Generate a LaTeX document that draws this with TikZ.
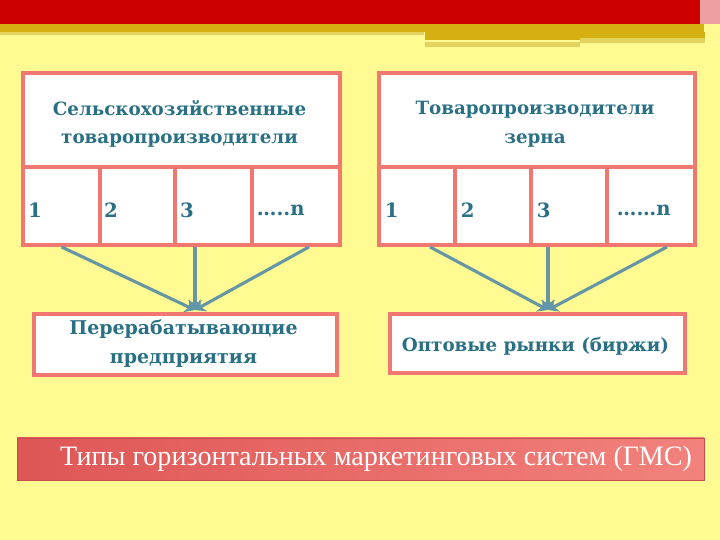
\documentclass[tikz,border=0pt]{standalone}
\usepackage{fontspec}
\setmainfont{Liberation Serif}
\newfontfamily\boxfont{DejaVu Serif}
\usepackage{tikz}
\usetikzlibrary{arrows.meta, calc}

\definecolor{slidebg}{RGB}{255,250,145}
\definecolor{slidered}{RGB}{204,0,0}
\definecolor{slidegold}{RGB}{212,176,16}
\definecolor{lightgold}{RGB}{228,210,95}
\definecolor{paleband}{RGB}{238,160,160}
\definecolor{framered}{RGB}{240,120,112}
\definecolor{tealtext}{RGB}{42,112,132}
\definecolor{linkgray}{RGB}{100,150,165}
\definecolor{tipblue}{RGB}{80,150,200}
\definecolor{bannerdark}{RGB}{222,86,86}
\definecolor{bannerlight}{RGB}{242,130,124}

\begin{document}
\begin{tikzpicture}[
    box/.style={rectangle, draw=framered, line width=2.8pt, fill=white, inner sep=0pt, anchor=north west},
    title/.style={font=\boxfont\bfseries\fontsize{13}{20.5}\selectfont, text=tealtext, align=center},
    num/.style={font=\boxfont\bfseries\fontsize{14}{16}\selectfont, text=tealtext, anchor=west},
    link/.style={draw=linkgray, line width=2.2pt, -{Stealth[length=7pt, width=10pt, fill=tipblue]}}
]
    % slide background
    \fill[slidebg] (0,0) rectangle (18,13.5);
    \useasboundingbox (0,0) rectangle (18,13.5);
    \fill[slidered] (0,12.9) rectangle (17.5,13.5);
    \fill[paleband] (17.5,12.9) rectangle (18,13.5);
    \fill[slidegold] (0,12.7) rectangle (17.6,12.9);
    \fill[lightgold] (0,12.625) rectangle (10.6,12.7);
    \fill[slidegold] (10.625,12.5) rectangle (17.625,12.7);
    \fill[lightgold] (10.625,12.325) rectangle (14.5,12.45);
    \fill[lightgold] (14.5,12.425) rectangle (17.625,12.55);

    % Left group
    \node[box, minimum width=7.925cm, minimum height=2.35cm] (lhead) at (0.525,11.725) {};
    \node[title] (ltext) at (4.4875,10.4) {Сельскохозяйственные\\товаропроизводители};
    \node[box, minimum width=1.925cm, minimum height=1.95cm] (lc1) at (0.525,9.375) {};
    \node[box, minimum width=1.875cm, minimum height=1.95cm] (lc2) at (2.45,9.375) {};
    \node[box, minimum width=1.925cm, minimum height=1.95cm] (lc3) at (4.325,9.375) {};
    \node[box, minimum width=2.2cm, minimum height=1.95cm] (lc4) at (6.25,9.375) {};
    \node[num] (ln1) at (0.58,8.25) {1};
    \node[num] (ln2) at (2.48,8.25) {2};
    \node[num] (ln3) at (4.38,8.25) {3};
    \node[num] (ln4) at (6.3,8.25) {…..n};
    \node[box, minimum width=7.575cm, minimum height=1.525cm] (lbottom) at (0.8,5.7) {};
    \node[title, font=\boxfont\bfseries\fontsize{13.5}{20.5}\selectfont] (lbtext) at (4.5875,4.9) {Перерабатывающие\\предприятия};
    \coordinate (ltip) at (4.875,5.75);
    \draw[link] (lc1.south) -- (ltip);
    \draw[link] (ltip |- lc3.south) -- (ltip);
    \draw[link] ([xshift=0.325cm]lc4.south) -- (ltip);

    % Right group
    \node[box, minimum width=7.9cm, minimum height=2.35cm] (rhead) at (9.425,11.725) {};
    \node[title] (rtext) at (13.375,10.4) {Товаропроизводители\\зерна};
    \node[box, minimum width=1.9cm, minimum height=1.95cm] (rc1) at (9.425,9.375) {};
    \node[box, minimum width=1.9cm, minimum height=1.95cm] (rc2) at (11.325,9.375) {};
    \node[box, minimum width=1.9cm, minimum height=1.95cm] (rc3) at (13.225,9.375) {};
    \node[box, minimum width=2.2cm, minimum height=1.95cm] (rc4) at (15.125,9.375) {};
    \node[num] (rn1) at (9.5,8.25) {1};
    \node[num] (rn2) at (11.4,8.25) {2};
    \node[num] (rn3) at (13.3,8.25) {3};
    \node[num] (rn4) at (15.3,8.25) {……n};
    \node[box, minimum width=7.375cm, minimum height=1.475cm] (rbottom) at (9.7,5.7) {};
    \node[title] (rbtext) at (13.3875,4.85) {Оптовые рынки (биржи)};
    \coordinate (rtip) at (13.7,5.75);
    \draw[link] ([xshift=0.325cm]rc1.south) -- (rtip);
    \draw[link] (rtip |- rc3.south) -- (rtip);
    \draw[link] ([xshift=0.4cm]rc4.south) -- (rtip);

    % Caption bar
    \node[rectangle, draw=bannerdark!90!black, line width=0.6pt, left color=bannerdark, right color=bannerlight, minimum width=17.175cm, minimum height=1.05cm, anchor=west] (banner) at (0.425,2.025) {};
    \node[font=\fontsize{20}{24}\selectfont, text=white] (caption) at (9.4,2.02) {Типы горизонтальных маркетинговых систем (ГМС)};
\end{tikzpicture}
\end{document}
